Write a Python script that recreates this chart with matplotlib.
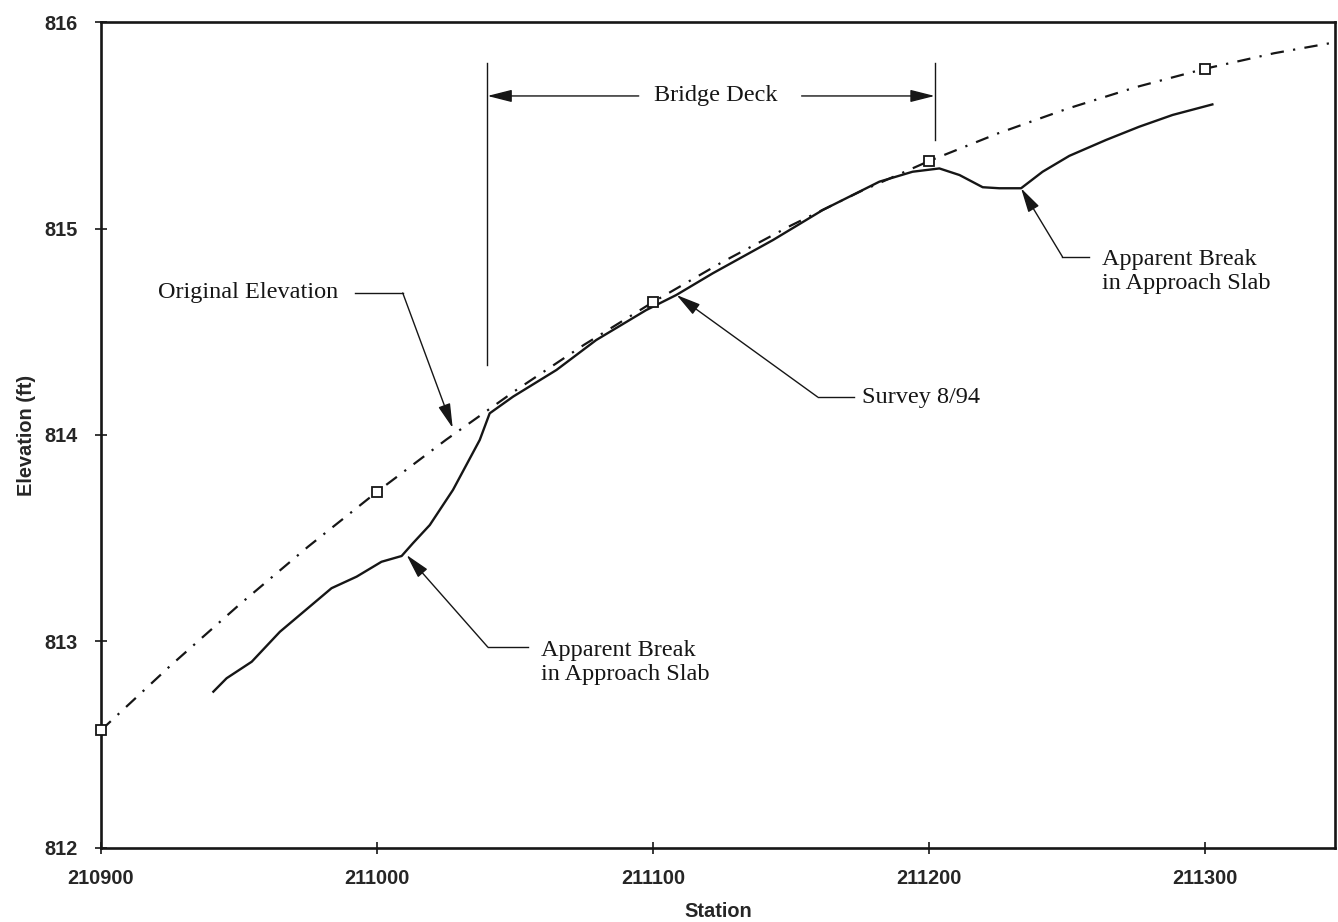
import numpy as np
import matplotlib
matplotlib.use("Agg")
import matplotlib.pyplot as plt

# design profile (original elevation), read at 25 ft stations
orig_station = [210900, 210925, 210950, 210975, 211000, 211025, 211050, 211075,
                211100, 211125, 211150, 211175, 211200, 211225, 211250, 211275,
                211300, 211325, 211350]
orig_elev = [812.570, 812.881, 813.177, 813.459, 813.725, 813.977, 814.214, 814.437,
             814.644, 814.837, 815.015, 815.179, 815.327, 815.461, 815.580, 815.685,
             815.774, 815.849, 815.909]

# marked stations on the original profile
mark_station = [210900, 211000, 211100, 211200, 211300]
mark_elev = [812.570, 813.725, 814.644, 815.327, 815.774]

# survey 8/94
survey_station = [210940.7, 210945.5, 210954.6, 210964.8, 210983.5, 210992.6,
                  211001.6, 211008.9, 211013.0, 211019.1, 211027.5, 211037.2,
                  211040.8, 211049.3, 211065.0, 211079.4, 211097.5, 211108.4,
                  211121.6, 211143.4, 211161.5, 211182.0, 211194.0, 211203.7,
                  211211.0, 211219.4, 211225.4, 211233.3, 211241.1, 211250.8,
                  211264.1, 211276.1, 211288.2, 211302.6]
survey_elev = [812.757, 812.822, 812.902, 813.047, 813.258, 813.314,
               813.386, 813.414, 813.476, 813.564, 813.734, 813.976,
               814.105, 814.186, 814.315, 814.460, 814.605, 814.678,
               814.783, 814.944, 815.090, 815.227, 815.275, 815.291,
               815.259, 815.200, 815.195, 815.195, 815.275, 815.352,
               815.429, 815.493, 815.550, 815.601]

xticks = [210900, 211000, 211100, 211200, 211300]
yticks = [812, 813, 814, 815, 816]

deck_start, deck_end = 211040, 211202

ink = '#161616'
serif = dict(family='Liberation Serif', size=17.5, color=ink)
sans = dict(family='Liberation Sans', size=14.4, weight='bold', color='#262626')

fig = plt.figure(figsize=(13.38, 9.22), dpi=100)
ax = fig.add_axes([0.0755, 0.0803, 0.9222, 0.8958])

ax.plot(orig_station, orig_elev, color=ink, lw=1.6,
        linestyle=(0, (6, 4.2, 1, 4.2)), zorder=2)
ax.plot(mark_station, mark_elev, linestyle='none', marker='s', ms=7,
        mfc='white', mec=ink, mew=1.3, zorder=4, clip_on=False)
ax.plot(survey_station, survey_elev, color=ink, lw=1.7, zorder=3)

ax.set_xlim(210900, 211347)
ax.set_ylim(812, 816)
ax.set_xticks(xticks)
ax.set_xticklabels([str(v) for v in xticks], **sans)
ax.set_yticks(yticks)
ax.set_yticklabels([str(v) for v in yticks], **sans)
ax.tick_params(direction='inout', length=9, width=1.2, color=ink)
ax.tick_params(axis='y', pad=12.5)
ax.tick_params(axis='x', pad=10.5)
for sp in ax.spines.values():
    sp.set_linewidth(1.9)
    sp.set_color(ink)
ax.set_xlabel('Station', labelpad=10, **sans)
ax.set_ylabel('Elevation (ft)', labelpad=6, **sans)

head = dict(arrowstyle='-|>,head_length=1.5,head_width=0.38', color=ink,
            lw=1.0, shrinkA=0, shrinkB=0, mutation_scale=10)


def leader(tip, corner, end):
    ax.plot([corner[0], end], [corner[1], corner[1]], color=ink, lw=1.0)
    ax.annotate('', xy=tip, xytext=corner, arrowprops=head)


# bridge deck extent
ax.plot([deck_start, deck_start], [814.34, 815.80], color=ink, lw=1.0)
ax.plot([deck_end, deck_end], [815.43, 815.80], color=ink, lw=1.0)
ax.annotate('', xy=(deck_start, 815.642), xytext=(211094.8, 815.642), arrowprops=head)
ax.annotate('', xy=(deck_end, 815.642), xytext=(211153.8, 815.642), arrowprops=head)
ax.text(211122.6, 815.642, 'Bridge Deck', ha='center', va='center', **serif)

# original elevation
ax.text(210985.8, 814.688, 'Original Elevation', ha='right', va='center', **serif)
ax.plot([210992.0, 211009.3], [814.688, 814.688], color=ink, lw=1.0)
ax.annotate('', xy=(211027.4, 814.034), xytext=(211009.3, 814.688), arrowprops=head)

# survey
leader((211108.5, 814.678), (211159.6, 814.184), 211172.9)
ax.text(211175.8, 814.184, 'Survey 8/94', ha='left', va='center', **serif)

# approach slab breaks
leader((211010.7, 813.419), (211040.1, 812.973), 211054.6)
ax.text(211059.5, 812.90, 'Apparent Break\nin Approach Slab', ha='left',
        va='center', linespacing=1.2, **serif)

leader((211233.3, 815.195), (211248.3, 814.863), 211258.0)
ax.text(211262.8, 814.79, 'Apparent Break\nin Approach Slab', ha='left',
        va='center', linespacing=1.2, **serif)

fig.savefig('out.png', dpi=100)
